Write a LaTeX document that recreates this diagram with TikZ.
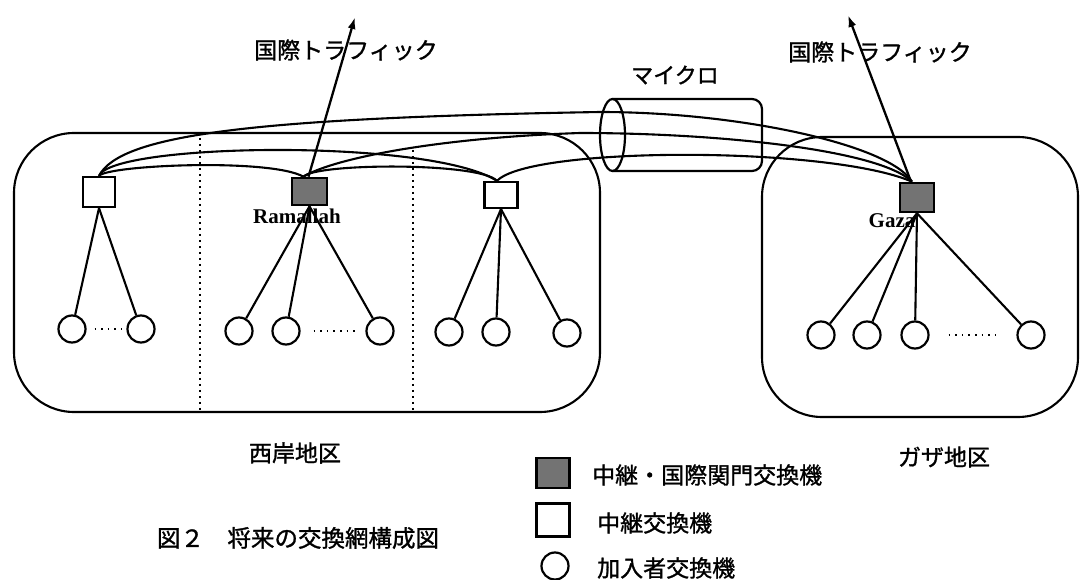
\documentclass[tikz,border=0pt]{standalone}
\usepackage{fontspec}
\newfontfamily\jp[FakeBold=1.2]{Noto Sans CJK JP}
\newfontfamily\lser{Liberation Serif}
\usetikzlibrary{arrows.meta}
\tikzset{
 tbox/.style={draw, line width=2.2pt, inner sep=0pt, fill=white},
 gbox/.style={draw, line width=2.6pt, inner sep=0pt, fill=black!55},
 sub/.style={circle, draw, line width=2.2pt, minimum size=27pt, inner sep=0pt, fill=white},
 trunk/.style={line width=2.1pt},
 feed/.style={line width=2.1pt},
 dotl/.style={line width=2.8pt, dash pattern=on 2pt off 4pt},
 dotsub/.style={line width=2.4pt, dash pattern=on 1.6pt off 5pt},
 region/.style={line width=2.1pt, rounded corners=60pt},
 arr/.style={line width=2.3pt, -{Latex[length=12pt,width=8pt]}},
 jl/.style={font=\jp\fontsize{23}{23}\selectfont, inner sep=0pt},
 rl/.style={font=\lser\bfseries\fontsize{21}{21}\selectfont, inner sep=0pt},
}
\begin{document}
\begin{tikzpicture}[x=1pt,y=-1pt]
\useasboundingbox (0,0) rectangle (1080,580);
% regions
\draw[region] (14,133) rectangle (600,412);
\draw[region] (762,137) rectangle (1078,417);
\draw[dotl] (200,138) -- (200,412);
\draw[dotl] (413,150) -- (413,412);
% microwave cylinder
\draw[line width=2.2pt, rounded corners=10pt] (612.5,99) -- (762,99) -- (762,171) -- (612.5,171);
\draw[line width=2.2pt] (612.5,135) ellipse [x radius=12.5, y radius=36];
\node[jl, font=\jp\fontsize{22}{22}\selectfont] (mic) at (675,75) {マイクロ};
% trunk switches
\node[tbox, minimum width=32pt, minimum height=30pt] (A) at (99,192) {};
\node[gbox, minimum width=35pt, minimum height=27pt] (B) at (309.5,191.5) {};
\node[tbox, minimum width=33pt, minimum height=26pt] (C) at (501,195) {};
\node[gbox, minimum width=34pt, minimum height=29pt] (G) at (917,197.5) {};
\node[rl] (Blab) at (297,216) {Ramallah};
\node[rl] (Glab) at (892,221) {Gaza};
% subscriber switches
\node[sub] (a1) at (72,329) {};
\node[sub] (a2) at (141,329) {};
\node[sub] (b1) at (239,331) {};
\node[sub] (b2) at (286,331) {};
\node[sub] (b3) at (380,331) {};
\node[sub] (c1) at (449,332) {};
\node[sub] (c2) at (496,332) {};
\node[sub] (c3) at (567,333) {};
\node[sub] (g1) at (821,335) {};
\node[sub] (g2) at (867,335) {};
\node[sub] (g3) at (915,335) {};
\node[sub] (g4) at (1031,335) {};
% trunk connections
\draw[trunk] (A.north) .. controls (108,165) and (270,158) .. ([xshift=-6pt]B.north);
\draw[trunk] (A.north) .. controls (112,143) and (430,138) .. ([xshift=-4pt]C.north);
\draw[trunk] (A.north) .. controls (120,135) and (250,118) .. (600,112) .. controls (740,112) and (890,145) .. ([xshift=-5pt]G.north);
\draw[trunk] ([xshift=-6pt]B.north) .. controls (315,163) and (480,162) .. ([xshift=-4pt]C.north);
\draw[trunk] ([xshift=-6pt]B.north) .. controls (330,160) and (430,138) .. (580,133) .. controls (720,133) and (880,150) .. ([xshift=-5pt]G.north);
\draw[trunk] ([xshift=-4pt]C.north) .. controls (530,146) and (830,146) .. ([xshift=-5pt]G.north);
% international traffic
\coordinate (tw) at (355,17);
\coordinate (tg) at (848,15);
\node[jl] (itw) at (346,50) {国際トラフィック};
\node[jl] (itg) at (880,52) {国際トラフィック};
\draw[arr] ([xshift=-1pt]B.north) -- (tw);
\draw[arr] ([xshift=-6pt]G.north) -- (tg);
% feeders
\draw[feed] (A.south) -- (a1);
\draw[feed] (A.south) -- (a2);
\draw[feed] (B.south) -- (b1);
\draw[feed] (B.south) -- (b2);
\draw[feed] (B.south) -- (b3);
\draw[feed] (C.south) -- (c1);
\draw[feed] (C.south) -- (c2);
\draw[feed] (C.south) -- (c3);
\draw[feed] (G.south) -- (g1);
\draw[feed] (G.south) -- (g2);
\draw[feed] (G.south) -- (g3);
\draw[feed] (G.south) -- (g4);
\draw[dotsub, shorten <=8pt, shorten >=5pt] (a1) -- (a2);
\draw[dotsub, shorten <=13pt, shorten >=10pt] (b2) -- (b3);
\draw[dotsub, shorten <=19pt, shorten >=17pt] (g3) -- (g4);
% region labels
\node[jl] (wb) at (295,453) {西岸地区};
\node[jl] (gz) at (944,457) {ガザ地区};
\node[jl, font=\jp\fontsize{23.5}{23.5}\selectfont] (cap) at (298,538) {図２　将来の交換網構成図};
% legend
\node[gbox, minimum width=33pt, minimum height=30pt] (l1) at (553,473) {};
\node[jl, anchor=west] (l1t) at (592,475) {中継・国際関門交換機};
\node[tbox, minimum width=33pt, minimum height=33pt] (l2) at (553,520) {};
\node[jl, anchor=west] (l2t) at (597,523) {中継交換機};
\node[sub] (l3) at (555,566) {};
\node[jl, anchor=west] (l3t) at (597,568) {加入者交換機};
\end{tikzpicture}
\end{document}
